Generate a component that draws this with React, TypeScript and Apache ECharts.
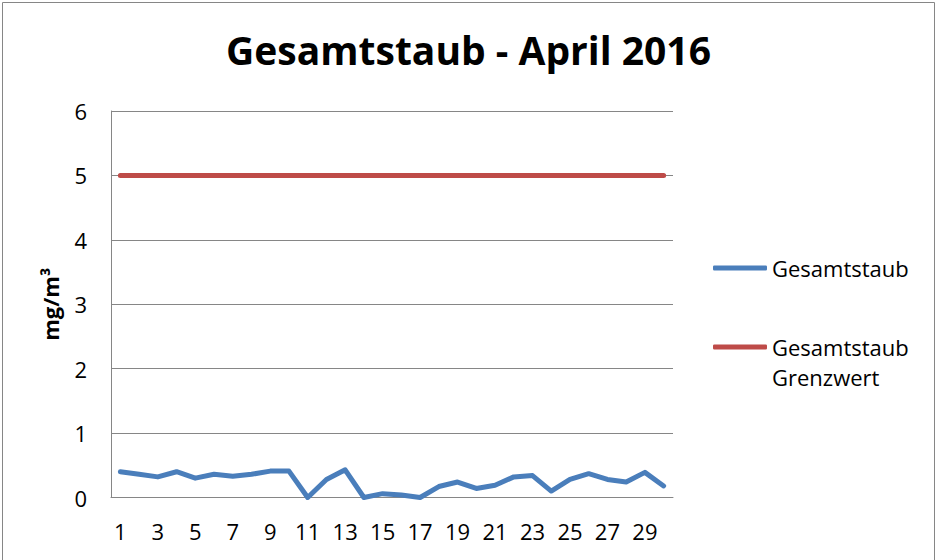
import React, { useEffect, useRef } from "react";
import * as echarts from "echarts";

const days: string[] = Array.from({ length: 30 }, (_, i) => String(i + 1));
const gesamtstaub: number[] = [
  0.4, 0.36, 0.32, 0.4, 0.3, 0.36, 0.33, 0.36, 0.41, 0.41,
  0.0, 0.28, 0.43, 0.0, 0.06, 0.04, 0.0, 0.17, 0.24, 0.14,
  0.19, 0.32, 0.34, 0.1, 0.28, 0.37, 0.28, 0.24, 0.39, 0.18,
];
const grenzwert: number[] = days.map(() => 5);
const titleText = "Gesamtstaub - April 2016";
const yAxisName = "mg/m³";
const seriesNames = ["Gesamtstaub", "Gesamtstaub Grenzwert"];

const FONT = "Open Sans";

export default function App() {
  const ref = useRef<HTMLDivElement>(null);
  useEffect(() => {
    if (!ref.current) return;
    const chart = echarts.init(ref.current, undefined, { renderer: "svg" });
    chart.setOption({
      animation: false,
      backgroundColor: "#ffffff",
      title: {
        text: titleText,
        left: "center",
        top: 25,
        textStyle: { fontFamily: FONT, fontWeight: "bold", fontSize: 39, color: "#000" },
      },
      graphic: [
        {
          type: "rect",
          shape: { x: 2.5, y: 2.5, width: 932, height: 600 },
          style: { fill: "none", stroke: "#868686", lineWidth: 1 },
          silent: true,
        },
      ],
      grid: { left: 111, top: 111, right: 264, bottom: 62.5, containLabel: false },
      legend: {
        orient: "vertical",
        left: 713,
        top: 253,
        padding: 0,
        icon: "roundRect",
        itemWidth: 54,
        itemHeight: 5,
        itemGap: 19,
        textStyle: {
          fontFamily: FONT,
          fontSize: 22,
          color: "#000",
          lineHeight: 30,
          rich: {
            e: { fontFamily: FONT, fontSize: 22, lineHeight: 30 },
            a: { fontFamily: FONT, fontSize: 22, lineHeight: 30, color: "#000" },
          },
        },
        formatter: (name: string) =>
          name === seriesNames[1]
            ? "{e| }\n{a|Gesamtstaub}\n{a|Grenzwert}"
            : "{a|" + name + "}",
        data: [{ name: seriesNames[0] }, { name: seriesNames[1] }],
      },
      xAxis: {
        type: "category",
        data: days,
        boundaryGap: true,
        axisLine: { lineStyle: { color: "#868686", width: 1 } },
        axisTick: { show: false },
        axisLabel: {
          interval: 1,
          margin: 22,
          fontFamily: FONT,
          fontSize: 22,
          color: "#000",
        },
      },
      yAxis: {
        type: "value",
        min: 0,
        max: 6,
        interval: 1,
        name: yAxisName,
        nameLocation: "middle",
        nameGap: 50,
        nameRotate: 90,
        nameTextStyle: { fontFamily: FONT, fontWeight: "bold", fontSize: 22, color: "#000" },
        axisLine: { show: true, lineStyle: { color: "#868686", width: 1 } },
        axisTick: { show: false },
        splitLine: { show: true, lineStyle: { color: "#868686", width: 1 } },
        axisLabel: { margin: 24, fontFamily: FONT, fontSize: 22, color: "#000" },
      },
      series: [
        {
          name: seriesNames[0],
          type: "line",
          data: gesamtstaub,
          symbol: "none",
          lineStyle: { color: "#4A7EBB", width: 5, cap: "round", join: "round" },
          itemStyle: { color: "#4A7EBB" },
          z: 3,
        },
        {
          name: seriesNames[1],
          type: "line",
          data: grenzwert,
          symbol: "none",
          lineStyle: { color: "#BE4B48", width: 5, cap: "round" },
          itemStyle: { color: "#BE4B48" },
          z: 2,
        },
      ],
    });
    return () => chart.dispose();
  }, []);
  return (
    <div
      ref={ref}
      style={{ position: "fixed", left: 0, top: 0, width: 937, height: 560 }}
    />
  );
}
